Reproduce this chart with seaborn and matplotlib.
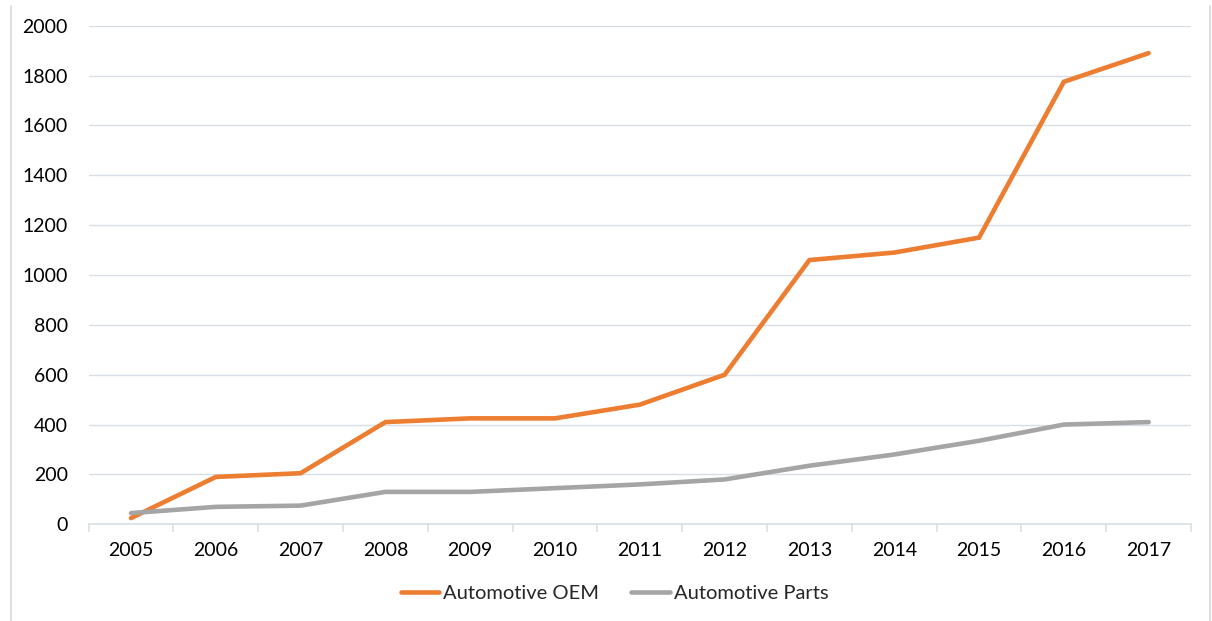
import matplotlib
matplotlib.use("Agg")
import matplotlib.pyplot as plt
from matplotlib.lines import Line2D
import seaborn as sns
import pandas as pd

# Yearly figures for the two automotive segments
years = [2005, 2006, 2007, 2008, 2009, 2010, 2011, 2012, 2013, 2014, 2015, 2016, 2017]
oem = [25, 190, 205, 410, 425, 425, 480, 600, 1060, 1090, 1150, 1775, 1890]
parts = [45, 70, 75, 130, 130, 145, 160, 180, 235, 280, 335, 400, 410]
series_names = ["Automotive OEM", "Automotive Parts"]
y_ticks = [0, 200, 400, 600, 800, 1000, 1200, 1400, 1600, 1800, 2000]

df = pd.DataFrame({
    "year": years * 2,
    "value": oem + parts,
    "series": [series_names[0]] * len(years) + [series_names[1]] * len(years),
})

sns.set_theme(style="white")
plt.rcParams["font.family"] = ["Lato", "DejaVu Sans"]

grid_col = "#D9DEE6"
palette = {series_names[0]: "#ED7D31", series_names[1]: "#A5A5A5"}

fig = plt.figure(figsize=(12.12, 6.21), dpi=100)
ax = fig.add_axes([0.0731, 0.1557, 0.9096, 0.8029])

sns.lineplot(data=df, x="year", y="value", hue="series", palette=palette,
             linewidth=3.3, ax=ax, legend=False, sort=False)
for ln in ax.get_lines():
    ln.set_solid_capstyle("round")
    ln.set_solid_joinstyle("miter")

ax.set_xlim(years[0] - 0.5, years[-1] + 0.5)
ax.set_ylim(0, 2000)
ax.set_yticks(y_ticks)
ax.set_yticklabels([str(v) for v in y_ticks])
ax.set_xticks(years)
ax.set_xticklabels([str(y) for y in years])
ax.set_xticks([y - 0.5 for y in years] + [years[-1] + 0.5], minor=True)

ax.set_xlabel("")
ax.set_ylabel("")
ax.grid(axis="y", color=grid_col, linewidth=1.0)
ax.set_axisbelow(True)
for side in ["top", "right", "left"]:
    ax.spines[side].set_visible(False)
ax.spines["bottom"].set_color(grid_col)
ax.spines["bottom"].set_linewidth(1.2)

ax.tick_params(axis="y", which="major", length=0, pad=15, labelsize=14, labelcolor="#000000")
ax.tick_params(axis="x", which="major", length=0, pad=13, labelsize=14, labelcolor="#000000")
ax.tick_params(axis="x", which="minor", bottom=True, length=6, width=1.2, color=grid_col)

handles = [Line2D([0], [0], color=palette[n], linewidth=3.3, solid_capstyle="round")
           for n in series_names]
fig.legend(handles, series_names, loc="center", bbox_to_anchor=(0.507, 0.045),
           ncol=2, frameon=False, fontsize=14.5, handlelength=1.9, handletextpad=0.2,
           columnspacing=1.6)

# Chart-area border lines on the sides
for xf in (11 / 1212, 1210 / 1212):
    fig.add_artist(Line2D([xf, xf], [0, 1 - 6 / 621], transform=fig.transFigure,
                          color="#D9D9D9", linewidth=1.2))

fig.savefig("out.png", dpi=100, facecolor="white")
